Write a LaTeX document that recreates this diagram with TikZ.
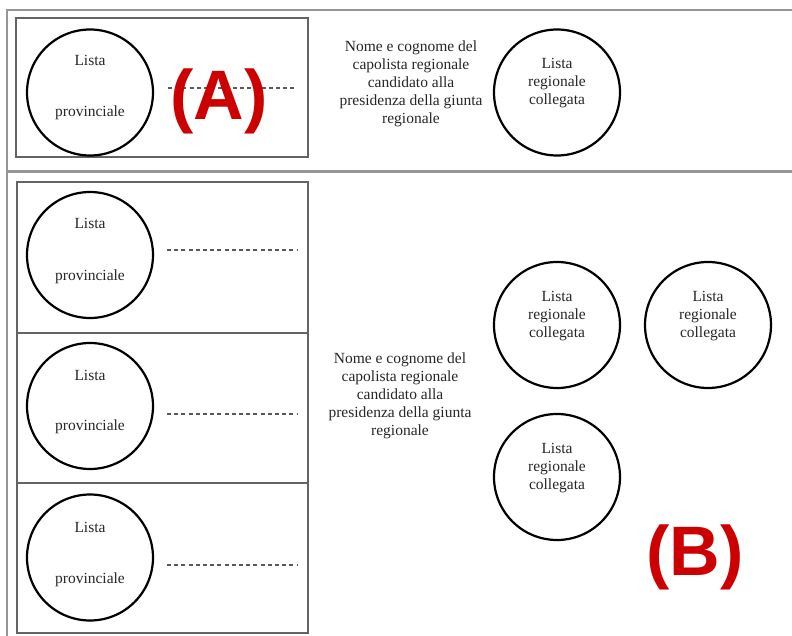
\documentclass[tikz,border=0pt]{standalone}
\usepackage{fontspec}
\setmainfont{Liberation Serif}
\newfontfamily\tagfont{Liberation Sans}
\definecolor{tagred}{RGB}{204,0,0}
\definecolor{framegray}{RGB}{150,150,150}
\definecolor{boxgray}{RGB}{100,100,100}
\begin{document}
\begin{tikzpicture}[x=1pt,y=-1pt,
  frameline/.style={draw=framegray, line width=2.6pt},
  ballot/.style={draw=boxgray, line width=1.3pt},
  listcircle/.style={circle, draw=black, line width=2.2pt, minimum size=126pt, inner sep=0pt},
  txt/.style={font=\fontsize{15.5}{18}\selectfont, align=center, text=black!85, inner sep=0pt},
  dots/.style={draw=black!65, line width=1.1pt, dash pattern=on 4pt off 3.2pt},
  tag/.style={font=\tagfont\bfseries\fontsize{70}{70}\selectfont, text=tagred, inner sep=0pt}
]
\useasboundingbox (0,0) rectangle (792,636);
% outer frame
\draw[frameline] (792,10) -- (7,10) -- (7,636);
\draw[frameline] (7,171.5) -- (792,171.5);

% ---------- section A ----------
\draw[ballot] (16,18) rectangle (308,157);
\node[listcircle] (pa) at (90,92.5) {};
\node[txt] (pal) at ([yshift=32pt]pa.center) {Lista};
\node[txt] (pap) at ([yshift=-20pt]pa.center) {provinciale};
\coordinate (da1) at (168,88);
\coordinate (da2) at (297,88);
\draw[dots] (da1) -- (da2);
\node[tag, anchor=base] (ta) at (219,120) {(A)};
\node[txt] (ca) at (411,84) {Nome e cognome del\\capolista regionale\\candidato alla\\presidenza della giunta\\regionale};
\node[listcircle] (ra) at (557,92.5) {};
\node[txt] (rat) at ([yshift=9pt]ra.center) {Lista\\regionale\\collegata};

% ---------- section B ----------
\draw[ballot] (17,182) rectangle (308,333);
\draw[ballot] (17,333) -- (308,333) -- (308,483) -- (17,483) -- cycle;
\draw[ballot] (17,483) rectangle (308,633);

\node[listcircle] (pb1) at (90,255) {};
\node[txt] (pb1l) at ([yshift=32pt]pb1.center) {Lista};
\node[txt] (pb1p) at ([yshift=-22pt]pb1.center) {provinciale};
\coordinate (db1a) at (167,250);
\coordinate (db1b) at (297,250);
\draw[dots] (db1a) -- (db1b);

\node[listcircle] (pb2) at (90,406) {};
\node[txt] (pb2l) at ([yshift=31pt]pb2.center) {Lista};
\node[txt] (pb2p) at ([yshift=-21pt]pb2.center) {provinciale};
\coordinate (db2a) at (167,414);
\coordinate (db2b) at (297,414);
\draw[dots] (db2a) -- (db2b);

\node[listcircle] (pb3) at (90,557.5) {};
\node[txt] (pb3l) at ([yshift=30pt]pb3.center) {Lista};
\node[txt] (pb3p) at ([yshift=-22pt]pb3.center) {provinciale};
\coordinate (db3a) at (167,565);
\coordinate (db3b) at (297,565);
\draw[dots] (db3a) -- (db3b);

\node[txt] (cb) at (400,396) {Nome e cognome del\\capolista regionale\\candidato alla\\presidenza della giunta\\regionale};

\node[listcircle] (rb1) at (557,325) {};
\node[txt] (rb1t) at ([yshift=9pt]rb1.center) {Lista\\regionale\\collegata};
\node[listcircle] (rb2) at (708,325) {};
\node[txt] (rb2t) at ([yshift=9pt]rb2.center) {Lista\\regionale\\collegata};
\node[listcircle] (rb3) at (557,477) {};
\node[txt] (rb3t) at ([yshift=9pt]rb3.center) {Lista\\regionale\\collegata};

\node[tag, anchor=base] (tb) at (695,575) {(B)};
\end{tikzpicture}
\end{document}
